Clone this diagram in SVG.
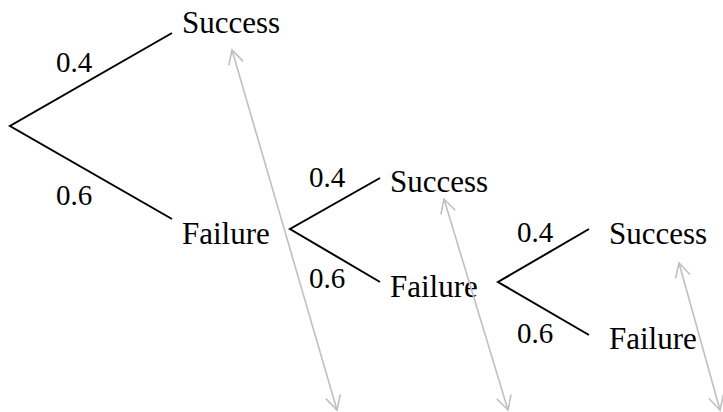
<svg xmlns="http://www.w3.org/2000/svg" width="723" height="412" viewBox="0 0 723 412">
<style>
.br{fill:none;stroke:#000;stroke-width:2}
.lbl{font-size:31px;fill:#000}
.p{font-size:29px;fill:#000}
.ar{fill:none;stroke:#c0c0c0;stroke-width:1.6;marker-start:url(#ah);marker-end:url(#ah)}
</style>
<defs>
<marker id="ah" markerUnits="userSpaceOnUse" markerWidth="20" markerHeight="20" viewBox="-16 -10 20 20" refX="0" refY="0" orient="auto-start-reverse">
<path d="M-14,-7.5 L0,0 L-14,7.5" fill="none" stroke="#c0c0c0" stroke-width="1.6"/>
</marker>
</defs>
<g font-family="'Liberation Serif', 'DejaVu Serif', serif">
<g id="tree1">
<path class="br" d="M172,33 L10,126 L172,219"/>
<text class="p" x="56" y="72">0.4</text>
<text class="p" x="56" y="205">0.6</text>
</g>
<g id="success1"><text class="lbl" x="182" y="33">Success</text></g>
<g id="failure1"><text class="lbl" x="182" y="244">Failure</text></g>
<g id="tree2">
<path class="br" d="M380,178 L290,229 L380,282"/>
<text class="p" x="309" y="187">0.4</text>
<text class="p" x="309" y="288">0.6</text>
</g>
<g id="success2"><text class="lbl" x="390" y="192">Success</text></g>
<g id="failure2"><text class="lbl" x="390" y="297">Failure</text></g>
<g id="tree3">
<path class="br" d="M589,229 L498,282 L589,335"/>
<text class="p" x="517" y="242">0.4</text>
<text class="p" x="517" y="343">0.6</text>
</g>
<g id="success3"><text class="lbl" x="609" y="244">Success</text></g>
<g id="failure3"><text class="lbl" x="609" y="349">Failure</text></g>
</g>
<g id="connectors">
<line class="ar" x1="232" y1="50" x2="337" y2="410"/>
<line class="ar" x1="444" y1="199" x2="508" y2="410"/>
<line class="ar" x1="679" y1="263" x2="720" y2="410"/>
</g>
</svg>
